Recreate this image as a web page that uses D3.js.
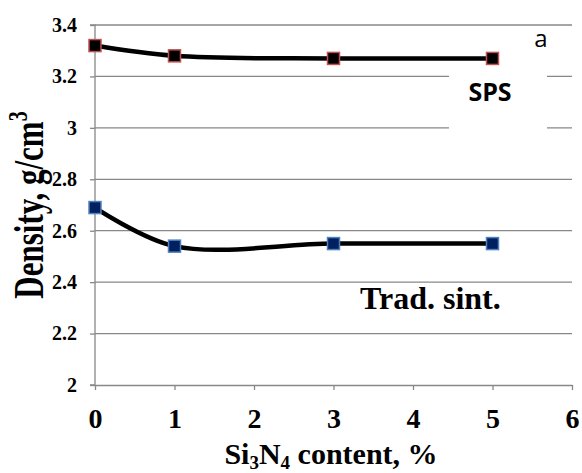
<html>
<head>
  <script src="https://d3js.org/d3.v7.min.js"></script>
  <style>
    body { margin: 0; background: #fff; }
  </style>
</head>
<body>
<svg id="chart" width="582" height="473"></svg>
<script>
  // data
  var content = [0, 1, 3, 5];
  var spsDensity = [3.32, 3.28, 3.27, 3.27];
  var tradDensity = [2.69, 2.54, 2.55, 2.55];
  var xTicks = [0, 1, 2, 3, 4, 5, 6];
  var yTicks = [2, 2.2, 2.4, 2.6, 2.8, 3, 3.2, 3.4];

  var svg = d3.select('#chart');
  var serif = '"Liberation Serif", "Times New Roman", serif';
  var sans = '"Open Sans", "Liberation Sans", sans-serif';

  var x = d3.scaleLinear().domain([0, 6]).range([95, 572]);
  var y = d3.scaleLinear().domain([2, 3.4]).range([385, 25]);

  // gridlines
  svg.append('g').selectAll('line')
    .data(yTicks.slice(1))
    .enter().append('line')
    .attr('x1', x(0)).attr('x2', x(6))
    .attr('y1', function(d) { return y(d); })
    .attr('y2', function(d) { return y(d); })
    .attr('stroke', '#888').attr('stroke-width', 1.3);

  // white box behind SPS label cuts the gridlines
  svg.append('rect')
    .attr('x', 449).attr('y', 64).attr('width', 98).attr('height', 80)
    .attr('fill', '#fff');

  // axes
  var yAxis = svg.append('g')
    .attr('transform', 'translate(' + x(0) + ',0)')
    .call(d3.axisLeft(y).tickValues(yTicks).tickSize(5).tickPadding(13)
      .tickFormat(function(d) { return String(+d.toFixed(1)); }));
  yAxis.selectAll('path, line').attr('stroke', '#888').attr('stroke-width', 1.3);
  yAxis.select('.domain').attr('d', 'M-5,' + y(2) + 'H0V' + y(3.4) + 'H-5');
  yAxis.selectAll('text')
    .attr('font-family', serif).attr('font-weight', 'bold')
    .attr('font-size', 20).attr('fill', '#000');

  var xAxis = svg.append('g')
    .attr('transform', 'translate(0,' + y(2) + ')')
    .call(d3.axisBottom(x).tickValues(xTicks).tickSize(5).tickPadding(18)
      .tickSizeOuter(0).tickFormat(d3.format('d')));
  xAxis.selectAll('path, line').attr('stroke', '#888').attr('stroke-width', 1.3);
  xAxis.selectAll('text')
    .attr('font-family', serif).attr('font-weight', 'bold')
    .attr('font-size', 28).attr('fill', '#000');

  // smoothed lines
  var line = d3.line()
    .x(function(d) { return x(d[0]); })
    .y(function(d) { return y(d[1]); })
    .curve(d3.curveCatmullRom.alpha(0.5));

  var series = [
    { values: spsDensity, fill: '#000', stroke: '#c0504d' },
    { values: tradDensity, fill: '#002060', stroke: '#4f81bd' }
  ];

  series.forEach(function(s) {
    var pts = content.map(function(c, i) { return [c, s.values[i]]; });
    svg.append('path')
      .attr('d', line(pts))
      .attr('fill', 'none').attr('stroke', '#000').attr('stroke-width', 4.5);
    svg.append('g').selectAll('rect')
      .data(pts)
      .enter().append('rect')
      .attr('x', function(d) { return x(d[0]) - 6; })
      .attr('y', function(d) { return y(d[1]) - 6; })
      .attr('width', 12).attr('height', 12)
      .attr('fill', s.fill).attr('stroke', s.stroke).attr('stroke-width', 1.5);
  });

  // labels
  svg.append('text')
    .attr('x', 490).attr('y', 101).attr('text-anchor', 'middle')
    .attr('font-family', sans).attr('font-weight', 'bold').attr('font-size', 25)
    .text('SPS');
  svg.append('text')
    .attr('x', 541).attr('y', 47).attr('text-anchor', 'middle')
    .attr('font-family', sans).attr('font-size', 24)
    .text('a');
  svg.append('text')
    .attr('x', 360).attr('y', 309)
    .attr('font-family', serif).attr('font-weight', 'bold').attr('font-size', 32)
    .text('Trad. sint.');

  // axis titles
  var yt = svg.append('text')
    .attr('transform', 'translate(43,205) rotate(-90) scale(1,1.35)')
    .attr('text-anchor', 'middle')
    .attr('font-family', serif).attr('font-weight', 'bold').attr('font-size', 31);
  yt.append('tspan').text('Density, g/cm');
  yt.append('tspan').attr('dy', -12).attr('font-size', 20).text('3');

  var xt = svg.append('text')
    .attr('x', 331).attr('y', 464).attr('text-anchor', 'middle')
    .attr('font-family', serif).attr('font-weight', 'bold').attr('font-size', 30);
  xt.append('tspan').text('Si');
  xt.append('tspan').attr('dy', 5).attr('font-size', 19).text('3');
  xt.append('tspan').attr('dy', -5).text('N');
  xt.append('tspan').attr('dy', 5).attr('font-size', 19).text('4');
  xt.append('tspan').attr('dy', -5).text(' content, %');
</script>
</body>
</html>
